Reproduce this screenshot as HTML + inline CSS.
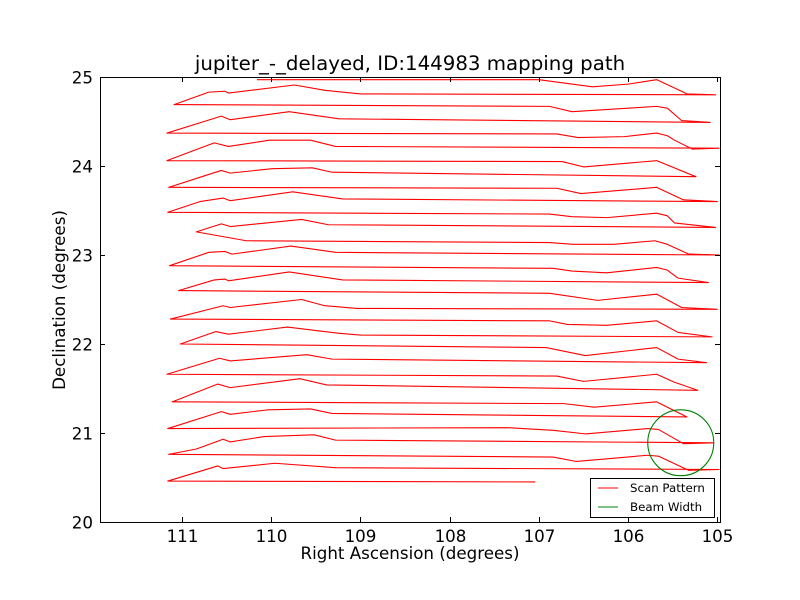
<!DOCTYPE html>
<html><head><meta charset="utf-8">
<style>
html,body{margin:0;padding:0;background:#fff;}
svg{display:block;font-family:"DejaVu Sans","Liberation Sans",sans-serif;}
</style></head>
<body>
<svg id="chart" width="800" height="600" viewBox="0 0 800 600">
  <rect x="0" y="0" width="800" height="600" fill="#fff"/>
  <text x="410" y="70" font-size="19.8" text-anchor="middle">jupiter_-_delayed, ID:144983 mapping path</text>
  <text x="410" y="559" font-size="16.7" text-anchor="middle">Right Ascension (degrees)</text>
  <text x="0" y="0" font-size="16.7" text-anchor="middle" transform="translate(65,300) rotate(-90)">Declination (degrees)</text>
  <g id="plot"></g>
  <g id="axes"></g>
  <g>
    <rect x="590.5" y="478.5" width="124" height="39" fill="#fff" stroke="#000" stroke-width="1"/>
    <line x1="598" y1="488" x2="618" y2="488" stroke="#ff0000" stroke-width="1"/>
    <text x="630" y="492" font-size="11.8">Scan Pattern</text>
    <line x1="598" y1="507" x2="618" y2="507" stroke="#008000" stroke-width="1"/>
    <text x="630" y="511" font-size="11.8">Beam Width</text>
  </g>
</svg>
<script>
const pathRA = [110.16,107.00,106.40,106.00,105.68,105.34,105.02,109.00,109.40,109.74,110.48,110.52,110.70,111.09,
106.88,106.63,105.68,105.56,105.40,105.08,109.24,109.80,110.46,110.56,111.17,
106.80,106.56,106.04,105.68,105.56,105.48,105.28,104.98,109.28,109.56,110.02,110.48,110.64,111.17,
106.74,106.50,105.68,105.24,109.32,109.54,109.99,110.46,110.56,110.84,111.15,
106.80,106.53,105.68,105.38,105.00,109.20,109.76,110.46,110.54,110.80,111.16,
106.88,106.63,106.24,105.68,105.56,105.48,105.02,109.36,109.66,110.46,110.56,110.84,110.28,
106.88,106.62,106.16,105.70,105.56,105.32,104.98,109.28,109.78,110.44,110.52,110.70,111.14,
106.84,106.63,106.24,105.68,105.56,105.44,105.10,109.20,109.80,110.48,110.52,110.64,111.04,
106.88,106.34,105.68,105.40,105.00,109.04,109.40,109.66,110.46,110.54,111.13,
106.88,106.68,106.24,105.68,105.44,105.06,109.00,109.24,109.82,110.48,110.62,111.02,
106.92,106.48,105.68,105.44,105.12,109.32,109.60,110.46,110.58,111.17,
106.80,106.50,105.68,105.48,105.22,109.38,109.68,110.46,110.60,111.11,
106.72,106.38,105.68,105.34,109.32,109.56,110.04,110.46,110.56,111.16,
107.36,106.84,106.48,105.78,105.66,105.38,105.04,109.28,109.52,110.08,110.46,110.54,110.84,111.15,
106.84,106.58,105.78,105.66,105.32,104.98,109.28,109.96,110.54,110.60,111.16,107.04];
const pathDec = [24.97,24.97,24.89,24.92,24.97,24.81,24.80,24.81,24.85,24.91,24.82,24.84,24.83,24.69,
24.67,24.61,24.67,24.65,24.51,24.49,24.53,24.61,24.52,24.56,24.37,
24.36,24.32,24.33,24.37,24.34,24.29,24.19,24.20,24.22,24.29,24.29,24.22,24.26,24.06,
24.05,23.99,24.06,23.88,23.93,23.98,23.97,23.92,23.95,23.86,23.76,
23.75,23.69,23.76,23.62,23.60,23.63,23.71,23.61,23.64,23.60,23.48,
23.46,23.43,23.42,23.47,23.44,23.36,23.31,23.34,23.40,23.32,23.35,23.26,23.16,
23.14,23.12,23.12,23.16,23.12,23.01,23.00,23.03,23.10,23.01,23.04,23.03,22.88,
22.85,22.82,22.80,22.86,22.83,22.74,22.69,22.72,22.81,22.71,22.73,22.72,22.60,
22.57,22.49,22.56,22.41,22.39,22.40,22.43,22.50,22.41,22.43,22.28,
22.26,22.22,22.21,22.26,22.13,22.08,22.10,22.12,22.19,22.11,22.14,22.00,
21.96,21.87,21.96,21.83,21.79,21.83,21.88,21.81,21.84,21.66,
21.64,21.58,21.66,21.57,21.48,21.54,21.61,21.51,21.55,21.35,
21.33,21.29,21.35,21.18,21.22,21.27,21.26,21.21,21.24,21.05,
21.06,21.03,20.99,21.05,21.04,20.88,20.89,20.92,20.98,20.96,20.90,20.93,20.82,20.76,
20.73,20.68,20.75,20.74,20.58,20.59,20.61,20.66,20.60,20.63,20.46,20.45];
const beamCenter = [105.41, 20.89];
const beamRadius = [0.37];
const xTicks = [111,110,109,108,107,106,105];
const yTicks = [20,21,22,23,24,25];

const PL=100, PR=720, PT=77, PB=522;
const X_LEFT=111.92, X_RIGHT=104.97, Y_MIN=20, Y_MAX=25;
function sx(v){return PL+(X_LEFT-v)/(X_LEFT-X_RIGHT)*(PR-PL);}
function sy(v){return PB-(v-Y_MIN)/(Y_MAX-Y_MIN)*(PB-PT);}
const NS='http://www.w3.org/2000/svg';
const plot=document.getElementById('plot');
const axes=document.getElementById('axes');

const defs=document.createElementNS(NS,'defs');
defs.innerHTML='<clipPath id="clip"><rect x="'+PL+'" y="'+PT+'" width="'+(PR-PL)+'" height="'+(PB-PT)+'"/></clipPath>';
document.getElementById('chart').insertBefore(defs,plot);
plot.setAttribute('clip-path','url(#clip)');

const pts=pathRA.map((r,i)=>sx(r).toFixed(2)+','+sy(pathDec[i]).toFixed(2)).join(' ');
const pl=document.createElementNS(NS,'polyline');
pl.setAttribute('points',pts);
pl.setAttribute('fill','none');
pl.setAttribute('stroke','#ff0000');
pl.setAttribute('stroke-width','1.1');
pl.setAttribute('stroke-linejoin','round');


plot.appendChild(pl);

const cx=sx(beamCenter[0]), cy=sy(beamCenter[1]);
const rx=Math.abs(sx(beamCenter[0]+beamRadius[0])-cx), ry=Math.abs(sy(beamCenter[1]+beamRadius[0])-cy);
const ci=document.createElementNS(NS,'ellipse');
ci.setAttribute('cx',cx);ci.setAttribute('cy',cy);ci.setAttribute('rx',rx);ci.setAttribute('ry',ry);
ci.setAttribute('fill','none');ci.setAttribute('stroke','#008000');ci.setAttribute('stroke-width','1.1');


plot.appendChild(ci);

const frame=document.createElementNS(NS,'rect');
frame.setAttribute('x',PL+0.5);frame.setAttribute('y',PT+0.5);
frame.setAttribute('width',PR-PL);frame.setAttribute('height',PB-PT);
frame.setAttribute('fill','none');frame.setAttribute('stroke','#000');


axes.appendChild(frame);

function tick(x1,y1,x2,y2){
  const l=document.createElementNS(NS,'line');
  l.setAttribute('x1',x1);l.setAttribute('y1',y1);l.setAttribute('x2',x2);l.setAttribute('y2',y2);
  l.setAttribute('stroke','#000');
  
  
  axes.appendChild(l);
}
xTicks.forEach(v=>{
  const x=Math.round(sx(v))+0.5;
  tick(x,PB,x,PB-5); tick(x,PT,x,PT+5);
  const t=document.createElementNS(NS,'text');
  t.setAttribute('x',x);t.setAttribute('y',PB+20);t.setAttribute('font-size','16.7');t.setAttribute('text-anchor','middle');
  t.textContent=v;
  
  
  axes.appendChild(t);
});
yTicks.forEach(v=>{
  const y=Math.round(sy(v))+0.5;
  tick(PL,y,PL+5,y); tick(PR,y,PR-5,y);
  const t=document.createElementNS(NS,'text');
  t.setAttribute('x',PL-7);t.setAttribute('y',y+6);t.setAttribute('font-size','16.7');t.setAttribute('text-anchor','end');
  t.textContent=v;
  
  
  axes.appendChild(t);
});
</script>
</body></html>
